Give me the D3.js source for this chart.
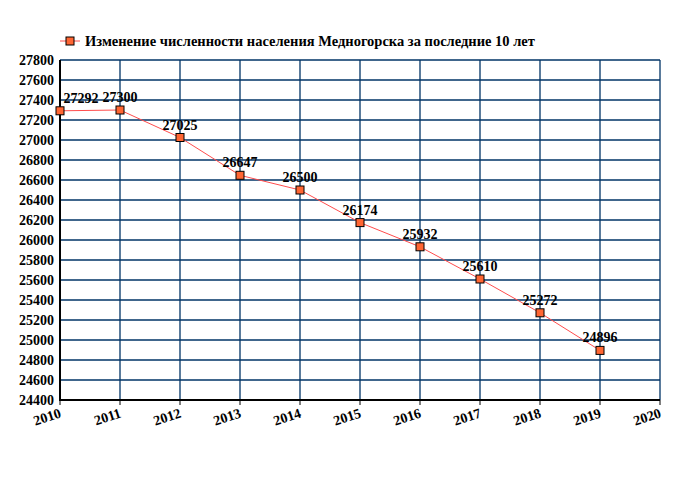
<!DOCTYPE html><html><head><meta charset="utf-8"><script src="https://d3js.org/d3.v7.min.js"></script>
<style>body{margin:0;background:#fff}text{font-family:"Liberation Serif",serif;font-weight:bold}</style></head><body>
<svg width="680" height="500"></svg>
<script>
const years=[2010,2011,2012,2013,2014,2015,2016,2017,2018,2019];
const population=[27292,27300,27025,26647,26500,26174,25932,25610,25272,24896];
const yTicks=d3.range(24400,27801,200);
const xTicks=d3.range(2010,2021);
const title="Изменение численности населения Медногорска за последние 10 лет";
const svg=d3.select("svg");
const x=d3.scaleLinear().domain([2010,2020]).range([60,660]);
const y=d3.scaleLinear().domain([24400,27800]).range([400,60]);
const g=svg.append("g");
g.selectAll(".h").data(yTicks).join("line").attr("x1",60).attr("x2",660).attr("y1",d=>y(d)).attr("y2",d=>y(d)).attr("stroke","#003366").attr("stroke-width",1.3);
g.selectAll(".v").data(xTicks).join("line").attr("y1",60).attr("y2",400).attr("x1",d=>x(d)).attr("x2",d=>x(d)).attr("stroke","#003366").attr("stroke-width",1.3);
g.append("line").attr("x1",60).attr("x2",60).attr("y1",60).attr("y2",401).attr("stroke","#000").attr("stroke-width",2);
g.append("line").attr("x1",59).attr("x2",660).attr("y1",400).attr("y2",400).attr("stroke","#000").attr("stroke-width",2);
g.selectAll(".tk").data(xTicks).join("line").attr("x1",d=>x(d)).attr("x2",d=>x(d)).attr("y1",400).attr("y2",405).attr("stroke","#000");
g.selectAll(".yl").data(yTicks).join("text").attr("x",54).attr("y",d=>y(d)+5).attr("text-anchor","end").attr("font-size",14).text(d=>d);
g.selectAll(".xl").data(xTicks).join("text").attr("transform",d=>`translate(${x(d)+2},${417}) rotate(-18)`).attr("text-anchor","end").attr("font-size",14).text(d=>d);
const line=d3.line().x((d,i)=>x(years[i])).y(d=>y(d));
g.append("path").datum(population).attr("d",line).attr("fill","none").attr("stroke","#ff4d4d").attr("stroke-width",1);
g.selectAll(".m").data(population).join("rect").attr("x",(d,i)=>x(years[i])-4).attr("y",d=>y(d)-4).attr("width",8).attr("height",8).attr("fill","#ff6633").attr("stroke","#000").attr("stroke-width",1);
g.selectAll(".dl").data(population).join("text").attr("x",(d,i)=>x(years[i])+(i==0?21:0)).attr("y",d=>y(d)-8).attr("text-anchor","middle").attr("font-size",14).text(d=>d);
const lg=svg.append("g");
lg.append("line").attr("x1",60).attr("x2",80).attr("y1",41).attr("y2",41).attr("stroke","#ff4d4d");
lg.append("rect").attr("x",66).attr("y",37).attr("width",8).attr("height",8).attr("fill","#ff6633").attr("stroke","#000");
lg.append("text").attr("x",85).attr("y",46).attr("font-size",14.5).text(title);
</script></body></html>
